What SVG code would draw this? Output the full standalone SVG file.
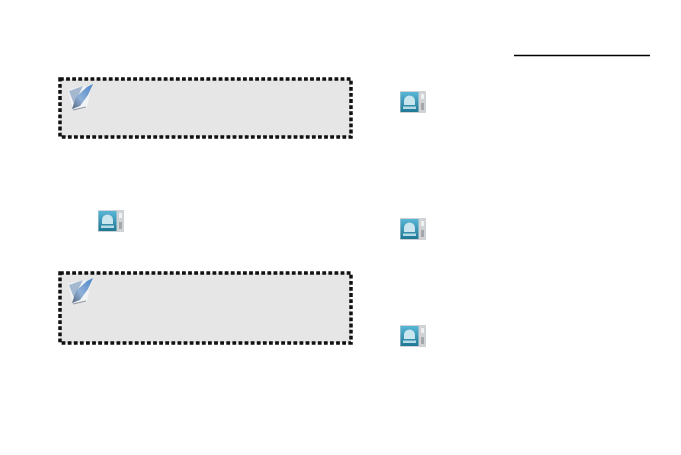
<svg xmlns="http://www.w3.org/2000/svg" width="681" height="455" viewBox="0 0 681 455">
<style>
.box{fill:#e6e6e6;stroke:#111;stroke-width:3.500;stroke-dasharray:3.800 2.300}
</style>
<defs>
<linearGradient id="tile" x1="0" y1="0" x2="0" y2="1"><stop offset="0" stop-color="#58b6d6"/><stop offset="1" stop-color="#1f7895"/></linearGradient>
<linearGradient id="quill" x1="1" y1="0" x2="0" y2="1"><stop offset="0" stop-color="#4a86c8"/><stop offset=".6" stop-color="#8fb0d8"/><stop offset="1" stop-color="#55657a"/></linearGradient>
<filter id="soft" x="-10%" y="-10%" width="120%" height="120%"><feGaussianBlur stdDeviation="0.500"/></filter>
<g id="note" filter="url(#soft)">
<path d="M1 6 L14 2 L24 3 L20 24 L6 26Z" fill="#f1f3f5"/>
<path d="M2 7 L16 2 L7 20Z" fill="#a4b8cf"/>
<path d="M26 0 L20 3 L9 13 L5 25 L13 22 L21 11Z" fill="url(#quill)"/>
<path d="M6 26 L19 23" stroke="#8d96a0" stroke-width="1.200" fill="none"/>
</g>
<g id="app" filter="url(#soft)">
<rect x="0" y="0" width="26" height="22" fill="#cfd3d5"/>
<rect x="0.500" y="1" width="18" height="20" fill="url(#tile)"/>
<path d="M4 14 V10 a5.500 5.500 0 0 1 11 0 V14Z" fill="#c9e6ef"/>
<rect x="3" y="15.500" width="13" height="2.500" fill="#b4dbe6"/>
<rect x="21" y="3" width="3" height="5" fill="#eef0f1"/>
<rect x="21" y="12" width="3" height="7" fill="#a4a8aa"/>
</g>
</defs>
<rect width="681" height="455" fill="#fff"/>
<g id="note-box-1">
<rect class="box" x="60" y="79" width="291" height="58"/>
<use href="#note" x="67" y="84"/>
</g>
<g id="note-box-2">
<rect class="box" x="60" y="273" width="291" height="70"/>
<use href="#note" x="67" y="278"/>
</g>
<g id="app-icon-left"><use href="#app" x="98" y="210"/></g>
<g id="app-icon-right-1"><use href="#app" x="400" y="91"/></g>
<g id="app-icon-right-2"><use href="#app" x="400" y="218"/></g>
<g id="app-icon-right-3"><use href="#app" x="400" y="325"/></g>
<g id="connectors">
<line x1="514" y1="55.500" x2="650" y2="55.500" stroke="#000" stroke-width="1.600"/>
</g>
</svg>
